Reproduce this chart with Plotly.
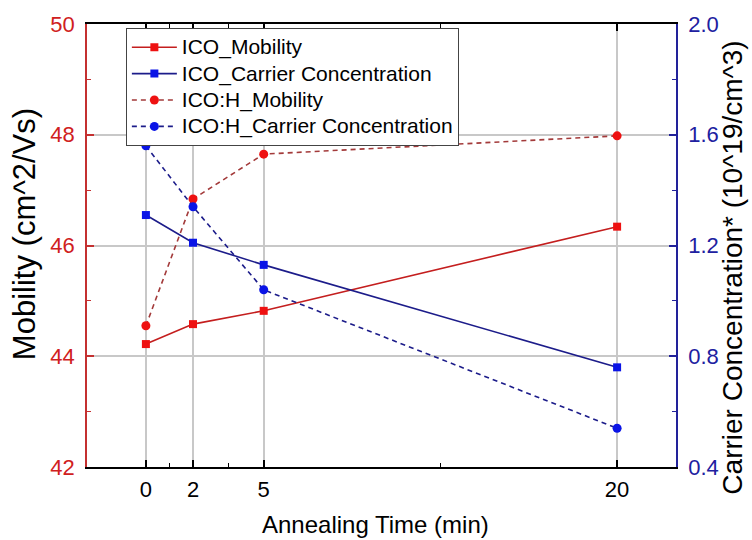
import plotly.graph_objects as go

time_min = [0, 2, 5, 20]
ico_mobility = [44.22, 44.58, 44.82, 46.34]
ico_carrier = [1.31, 1.21, 1.13, 0.76]
icoh_mobility = [44.55, 46.84, 47.65, 47.98]
icoh_carrier = [1.56, 1.34, 1.04, 0.54]

series_names = ["ICO_Mobility", "ICO_Carrier Concentration",
                "ICO:H_Mobility", "ICO:H_Carrier Concentration"]

x_ticks = [0, 2, 5, 20]
x_minor = [1, 3.5, 12.5]
y1_ticks = [42, 44, 46, 48, 50]
y1_minor = [43, 45, 47, 49]
y2_ticks = [0.4, 0.8, 1.2, 1.6, 2.0]
y2_minor = [0.6, 1.0, 1.4, 1.8]

RED_LINE = "#c41e1e"
RED_MK = "#ee1111"
RED_DASH = "#a33a3a"
BLUE_LINE = "#1c1c8a"
BLUE_MK = "#0a14e6"
RED_AX = "#c43030"
BLUE_AX = "#22229a"
FONT = "Liberation Sans, Arial, sans-serif"


def lname(s):
    return '<span style="font-size:21px">%s</span>' % s


fig = go.Figure()
fig.add_trace(go.Scatter(x=time_min, y=ico_mobility, name=lname(series_names[0]), mode="lines+markers",
                         line=dict(color=RED_LINE, width=1.6),
                         marker=dict(symbol="square", size=8, color=RED_MK), yaxis="y"))
fig.add_trace(go.Scatter(x=time_min, y=ico_carrier, name=lname(series_names[1]), mode="lines+markers",
                         line=dict(color=BLUE_LINE, width=1.6),
                         marker=dict(symbol="square", size=8, color=BLUE_MK), yaxis="y2"))
fig.add_trace(go.Scatter(x=time_min, y=icoh_mobility, name=lname(series_names[2]), mode="lines+markers",
                         line=dict(color=RED_DASH, width=1.6, dash="5px,4px"),
                         marker=dict(symbol="circle", size=9, color=RED_MK), yaxis="y"))
fig.add_trace(go.Scatter(x=time_min, y=icoh_carrier, name=lname(series_names[3]), mode="lines+markers",
                         line=dict(color=BLUE_LINE, width=1.6, dash="5px,4px"),
                         marker=dict(symbol="circle", size=9, color=BLUE_MK), yaxis="y2"))

fig.update_layout(
    width=752, height=540,
    margin=dict(l=87, r=76, t=24, b=73),
    paper_bgcolor="white", plot_bgcolor="white",
    font=dict(family=FONT, color="black"),
    showlegend=True,
    legend=dict(x=0.066, y=0.991, xanchor="left", yanchor="top",
                bgcolor="white", bordercolor="#444444", borderwidth=1,
                font=dict(size=18, family=FONT, color="black"),
                itemwidth=45, tracegroupgap=0),
    xaxis=dict(range=[-2.5, 22.5], tickmode="array", tickvals=x_ticks,
               ticktext=[str(v) for v in x_ticks],
               showgrid=True, gridcolor="#c8c8c8", gridwidth=1.5,
               showline=True, linecolor="black", linewidth=1.6, mirror="ticks",
               ticks="inside", ticklen=7, tickwidth=1.5, tickcolor="black",
               minor=dict(tickmode="array", tickvals=x_minor, ticks="inside", ticklen=4,
                          tickwidth=1.2, tickcolor="black", showgrid=False),
               tickfont=dict(size=22, family=FONT, color="black"),
               ticklabelstandoff=2,
               zeroline=False, automargin=False),
    yaxis=dict(range=[42, 50], tickmode="array", tickvals=y1_ticks,
               ticktext=[str(v) for v in y1_ticks],
               showgrid=True, gridcolor="#c8c8c8", gridwidth=1.5,
               showline=True, linecolor=RED_AX, linewidth=1.6,
               ticks="inside", ticklen=7, tickwidth=1.5, tickcolor=RED_AX,
               minor=dict(tickmode="array", tickvals=y1_minor, ticks="inside", ticklen=4,
                          tickwidth=1.2, tickcolor=RED_AX, showgrid=False),
               tickfont=dict(size=22, family=FONT, color="#d02020"),
               ticklabelstandoff=6,
               zeroline=False, automargin=False),
    yaxis2=dict(range=[0.4, 2.0], overlaying="y", side="right", tickmode="array",
                tickvals=y2_ticks, ticktext=["%.1f" % v for v in y2_ticks],
                showgrid=False,
                showline=True, linecolor=BLUE_AX, linewidth=1.6,
                ticks="inside", ticklen=7, tickwidth=1.5, tickcolor=BLUE_AX,
                minor=dict(tickmode="array", tickvals=y2_minor, ticks="inside", ticklen=4,
                           tickwidth=1.2, tickcolor=BLUE_AX, showgrid=False),
                tickfont=dict(size=22, family=FONT, color="#2020a0"),
                ticklabelstandoff=6,
                zeroline=False, automargin=False),
    annotations=[
        dict(text="Mobility (cm^2/Vs)", xref="paper", yref="paper", x=-0.105, y=0.526,
             xanchor="center", yanchor="middle", textangle=-90, showarrow=False,
             font=dict(size=31, family=FONT, color="black")),
        dict(text="Carrier Concentration* (10^19/cm^3)", xref="paper", yref="paper", x=1.096, y=0.449,
             xanchor="center", yanchor="middle", textangle=-90, showarrow=False,
             font=dict(size=28, family=FONT, color="black")),
        dict(text="Annealing Time (min)", xref="paper", yref="paper", x=0.49, y=-0.129,
             xanchor="center", yanchor="middle", showarrow=False,
             font=dict(size=24, family=FONT, color="black")),
    ],
)

fig.write_html("out.html")
